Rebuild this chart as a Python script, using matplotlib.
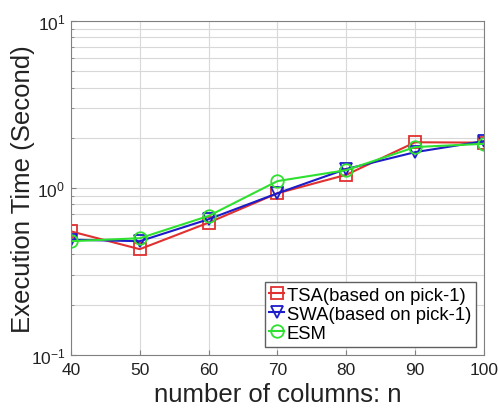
import matplotlib.pyplot as plt
from matplotlib.ticker import LogLocator

plt.rcParams["font.family"] = ["Liberation Sans", "DejaVu Sans"]
plt.rcParams["mathtext.fontset"] = "custom"
plt.rcParams["mathtext.rm"] = "Liberation Sans"
plt.rcParams["mathtext.it"] = "Liberation Sans:italic"

# number of columns
columns = [40, 50, 60, 70, 80, 90, 100]

# execution time (seconds)
tsa_times = [0.55, 0.43, 0.62, 0.93, 1.20, 1.88, 1.87]
swa_times = [0.49, 0.48, 0.65, 0.93, 1.30, 1.64, 1.91]
esm_times = [0.48, 0.50, 0.68, 1.10, 1.28, 1.76, 1.84]

series_labels = ["TSA(based on pick-1)", "SWA(based on pick-1)", "ESM"]

### execution time vs number of columns, log y-axis
if __name__ == "__main__":
    fig = plt.figure(figsize=(4.99, 4.10), dpi=100)
    ax = fig.add_axes([0.142, 0.132, 0.828, 0.814])

    ax.plot(columns, tsa_times, color="#e03030", marker="s", mfc="none",
            ms=8, mew=1.3, lw=1.5, label=series_labels[0])
    ax.plot(columns, swa_times, color="#1c1cc8", marker="v", mfc="none",
            ms=9, mew=1.3, lw=1.5, label=series_labels[1])
    ax.plot(columns, esm_times, color="#30e030", marker="o", mfc="none",
            ms=9, mew=1.3, lw=1.5, label=series_labels[2])

    ax.set_yscale("log")
    ax.set_ylim(0.1, 10)
    ax.set_xlim(40, 100)
    ax.set_xticks(columns)
    ax.yaxis.set_major_locator(LogLocator(base=10))
    ax.yaxis.set_minor_locator(LogLocator(base=10, subs=range(2, 10)))
    ax.yaxis.set_minor_formatter(plt.NullFormatter())

    ax.grid(True, which="both", color="#d8d8d8", lw=0.8)
    ax.set_axisbelow(True)
    for spine in ax.spines.values():
        spine.set_color("#808080")
    ax.tick_params(which="both", direction="in", colors="#808080",
                   labelcolor="#222222", labelsize=12.5)
    ax.tick_params(axis="x", pad=5)
    ax.tick_params(axis="y", pad=4)
    ax.tick_params(which="minor", length=2)

    ax.set_xlabel("number of columns: n", fontsize=18.5, color="#222222", labelpad=4)
    ax.set_ylabel("Execution Time (Second)", fontsize=18.5, color="#222222", labelpad=-3)

    ax.legend(loc="lower right", fontsize=13.3, handlelength=0.8,
              handletextpad=0.15, borderpad=0.25, labelspacing=0.12,
              fancybox=False, edgecolor="#606060", framealpha=1,
              borderaxespad=0.45)

    fig.savefig("out.png", dpi=100)
